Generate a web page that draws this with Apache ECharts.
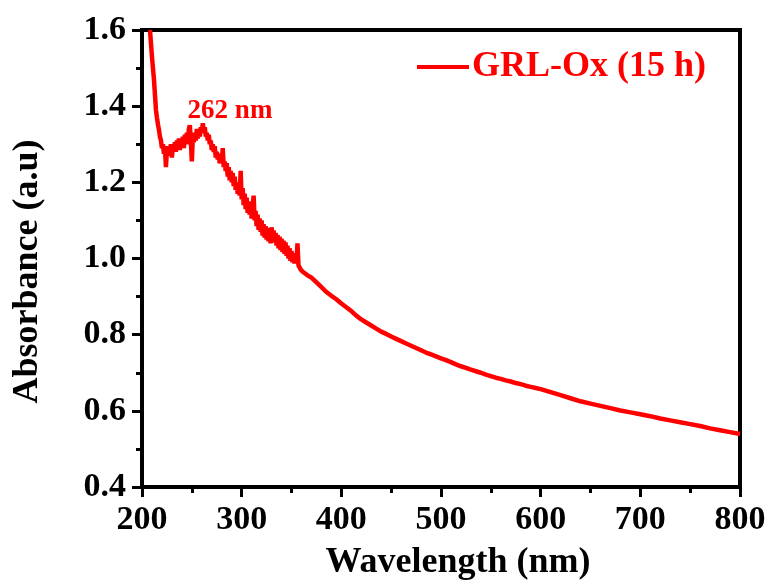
<!DOCTYPE html>
<html lang="en">

<head>
    <meta charset="UTF-8">
    <title>GRL-Ox absorbance</title>
    <script src="https://cdn.jsdelivr.net/npm/echarts@6/dist/echarts.min.js"></script>
    <style>
        html, body {
            margin: 0;
            padding: 0;
            background-color: #ffffff;
        }

        #chart {
            width: 771px;
            height: 586px;
        }
    </style>
</head>

<body>
    <div id="chart"></div>

    <script>
        // wavelength (nm) and absorbance (a.u)
        // (1 nm steps through the noisy UV part, coarser where the curve is smooth)
        var wavelength = [
            208, 209, 210, 211, 212, 213, 214, 215, 216, 217, 218, 219, 220, 221, 222, 223, 224, 225, 226, 227,
            228, 229, 230, 231, 232, 233, 234, 235, 236, 237, 238, 239, 240, 241, 242, 243, 244, 245, 246, 247,
            248, 249, 250, 251, 252, 253, 254, 255, 256, 257, 258, 259, 260, 261, 262, 263, 264, 265, 266, 267,
            268, 269, 270, 271, 272, 273, 274, 275, 276, 277, 278, 279, 280, 281, 282, 283, 284, 285, 286, 287,
            288, 289, 290, 291, 292, 293, 294, 295, 296, 297, 298, 299, 300, 301, 302, 303, 304, 305, 306, 307,
            308, 309, 310, 311, 312, 313, 314, 315, 316, 317, 318, 319, 320, 321, 322, 323, 324, 325, 326, 327,
            328, 329, 330, 331, 332, 333, 334, 335, 336, 337, 338, 339, 340, 341, 342, 343, 344, 345, 346, 347,
            348, 349, 350, 351, 352, 353, 354, 355, 356, 357, 358, 359, 360, 361, 362, 363, 364, 365, 366, 367,
            368, 369, 370, 372, 374, 376, 378, 380,
            385, 390, 395, 400, 405, 410, 415, 420, 425, 430, 435, 440, 445, 450, 455, 460, 465, 470, 475, 480,
            485, 490, 495, 500, 505, 510, 515, 520, 525, 530, 535, 540, 545, 550, 555, 560, 565, 570, 575, 580,
            585, 590, 595, 600, 610, 620, 630, 640, 650, 660, 670, 680, 690, 700, 710, 720, 730, 740, 750, 760,
            770, 780, 790, 800
        ];
        var absorbance = [
            1.600, 1.565, 1.530, 1.500, 1.470, 1.430, 1.390, 1.370, 1.352, 1.338, 1.320, 1.310, 1.290, 1.300, 1.275, 1.295, 1.240, 1.285, 1.270, 1.295,
            1.280, 1.300, 1.265, 1.295, 1.285, 1.305, 1.280, 1.310, 1.290, 1.315, 1.285, 1.310, 1.295, 1.320, 1.290, 1.325, 1.305, 1.330, 1.300, 1.340,
            1.350, 1.310, 1.255, 1.320, 1.305, 1.330, 1.310, 1.340, 1.315, 1.335, 1.320, 1.345, 1.330, 1.355, 1.335, 1.345, 1.320, 1.330, 1.310, 1.325,
            1.300, 1.310, 1.285, 1.300, 1.280, 1.295, 1.265, 1.280, 1.260, 1.275, 1.250, 1.265, 1.250, 1.290, 1.240, 1.255, 1.230, 1.250, 1.215, 1.240,
            1.205, 1.230, 1.200, 1.225, 1.190, 1.215, 1.180, 1.200, 1.170, 1.195, 1.165, 1.230, 1.155, 1.185, 1.140, 1.170, 1.130, 1.160, 1.120, 1.150,
            1.115, 1.145, 1.105, 1.135, 1.165, 1.100, 1.125, 1.085, 1.115, 1.075, 1.105, 1.070, 1.100, 1.060, 1.090, 1.055, 1.085, 1.050, 1.080, 1.045,
            1.075, 1.040, 1.082, 1.047, 1.074, 1.042, 1.067, 1.034, 1.062, 1.027, 1.057, 1.022, 1.052, 1.017, 1.047, 1.012, 1.042, 1.007, 1.034, 1.000,
            1.027, 0.994, 1.020, 0.990, 1.014, 0.987, 1.008, 0.990, 1.040, 0.982, 0.977, 0.972, 0.968, 0.966, 0.963, 0.961, 0.960, 0.957, 0.955, 0.954,
            0.952, 0.951, 0.950, 0.945, 0.940, 0.935, 0.930, 0.925,
            0.912, 0.902, 0.893, 0.882, 0.872, 0.862, 0.850, 0.840, 0.832, 0.824, 0.816, 0.808, 0.802, 0.795, 0.789, 0.783, 0.777, 0.771, 0.765, 0.759,
            0.753, 0.748, 0.743, 0.738, 0.733, 0.728, 0.722, 0.717, 0.713, 0.708, 0.704, 0.700, 0.695, 0.691, 0.687, 0.684, 0.680, 0.677, 0.673, 0.670,
            0.666, 0.663, 0.660, 0.657, 0.649, 0.641, 0.633, 0.625, 0.619, 0.613, 0.607, 0.601, 0.596, 0.591, 0.586, 0.580, 0.575, 0.570, 0.565, 0.560,
            0.554, 0.549, 0.544, 0.539
        ];

        var seriesName = 'GRL-Ox (15 h)';
        var peakLabel = '262 nm';
        var xTitle = 'Wavelength (nm)';
        var yTitle = 'Absorbance (a.u)';

        var serif = "'Liberation Serif', 'Times New Roman', serif";

        var points = wavelength.map(function (w, i) {
            return [w, absorbance[i]];
        });

        var tickStyle = { color: '#000000', width: 3 };

        var chart = echarts.init(document.getElementById('chart'), null, { renderer: 'canvas' });

        chart.setOption({
            backgroundColor: '#ffffff',
            animation: false,
            grid: {
                left: 142,
                right: 31,
                top: 30,
                bottom: 98,
                show: true,
                borderColor: '#000000',
                borderWidth: 4
            },
            legend: {
                right: 60,
                top: 44,
                icon: 'rect',
                itemWidth: 52,
                itemHeight: 4,
                itemGap: 0,
                data: [seriesName],
                textStyle: {
                    color: '#ff0000',
                    fontFamily: serif,
                    fontWeight: 'bold',
                    fontSize: 36,
                    padding: [0, 0, 0, -2]
                }
            },
            xAxis: {
                type: 'value',
                min: 200,
                max: 800,
                interval: 100,
                name: xTitle,
                nameLocation: 'middle',
                nameGap: 58,
                nameTextStyle: {
                    color: '#000000',
                    fontFamily: serif,
                    fontWeight: 'bold',
                    fontSize: 36,
                    padding: [0, 0, 0, 34]
                },
                axisLine: { show: true, lineStyle: { color: '#000000', width: 4 } },
                axisTick: { show: true, inside: false, length: 10, lineStyle: tickStyle },
                minorTick: { show: true, splitNumber: 2, length: 6, lineStyle: tickStyle },
                splitLine: { show: false },
                minorSplitLine: { show: false },
                axisLabel: {
                    color: '#000000',
                    fontFamily: serif,
                    fontWeight: 'bold',
                    fontSize: 34,
                    margin: 16
                }
            },
            yAxis: {
                type: 'value',
                min: 0.4,
                max: 1.6,
                interval: 0.2,
                name: yTitle,
                nameLocation: 'middle',
                nameGap: 96,
                nameTextStyle: {
                    color: '#000000',
                    fontFamily: serif,
                    fontWeight: 'bold',
                    fontSize: 36,
                    padding: [0, 26, 0, 0]
                },
                axisLine: { show: true, lineStyle: { color: '#000000', width: 4 } },
                axisTick: { show: true, inside: false, length: 10, lineStyle: tickStyle },
                minorTick: { show: true, splitNumber: 2, length: 6, lineStyle: tickStyle },
                splitLine: { show: false },
                minorSplitLine: { show: false },
                axisLabel: {
                    color: '#000000',
                    fontFamily: serif,
                    fontWeight: 'bold',
                    fontSize: 34,
                    margin: 16,
                    formatter: function (v) { return v.toFixed(1); }
                }
            },
            series: [{
                name: seriesName,
                type: 'line',
                data: points,
                showSymbol: false,
                symbol: 'none',
                clip: true,
                itemStyle: { color: '#ff0000' },
                lineStyle: { color: '#ff0000', width: 4.5 }
            }],
            graphic: [{
                type: 'text',
                x: 230,
                y: 111,
                style: {
                    text: peakLabel,
                    fill: '#ff0000',
                    font: 'bold 27px ' + serif,
                    align: 'center',
                    verticalAlign: 'middle'
                }
            }]
        });
    </script>
</body>

</html>
